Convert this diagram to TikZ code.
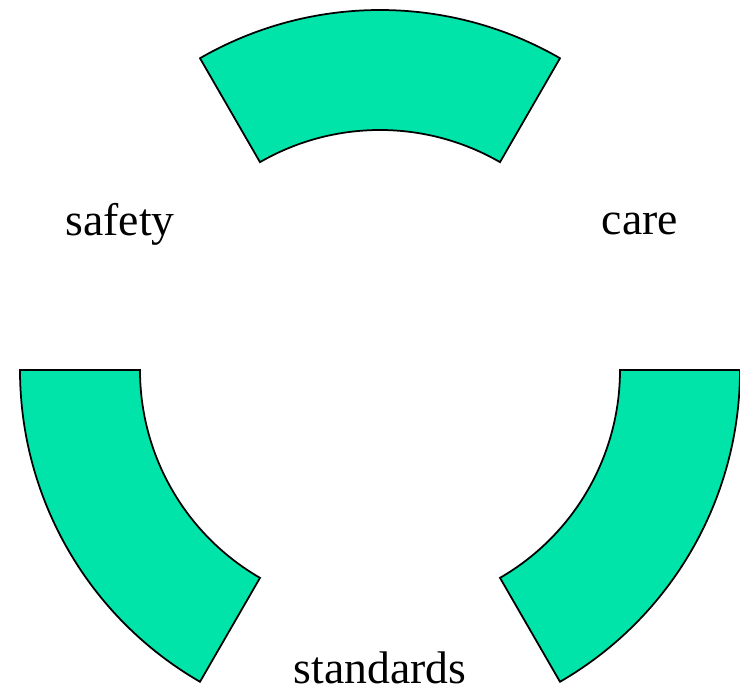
\documentclass[tikz,border=0pt]{standalone}
\usepackage{fontspec}
\setmainfont{Liberation Serif}
\definecolor{ringgreen}{RGB}{0,228,170}

\begin{document}
\begin{tikzpicture}
            \tikzset{sector/.style = {draw=black, fill=ringgreen, line width=1pt}}
            \tikzset{word/.style = {font=\fontsize{26}{30}\selectfont, inner sep=0pt}}

            \useasboundingbox (-7.6,-6.42) rectangle (7.2,7.4);

            % three ring pieces, 60 degrees each
            \foreach \a in {60,180,300}
              \draw[sector] (\a:7.2) arc (\a:\a+60:7.2) -- (\a+60:4.8) arc (\a+60:\a:4.8) -- cycle;

            \node[word, yshift=-0.08cm] (safety) at (150:6) {safety};
            \node[word, yshift=-0.08cm] (care) at (30:6) {care};
            \node[word, yshift=0.04cm] (standards) at (270:6) {standards};
\end{tikzpicture}
\end{document}
